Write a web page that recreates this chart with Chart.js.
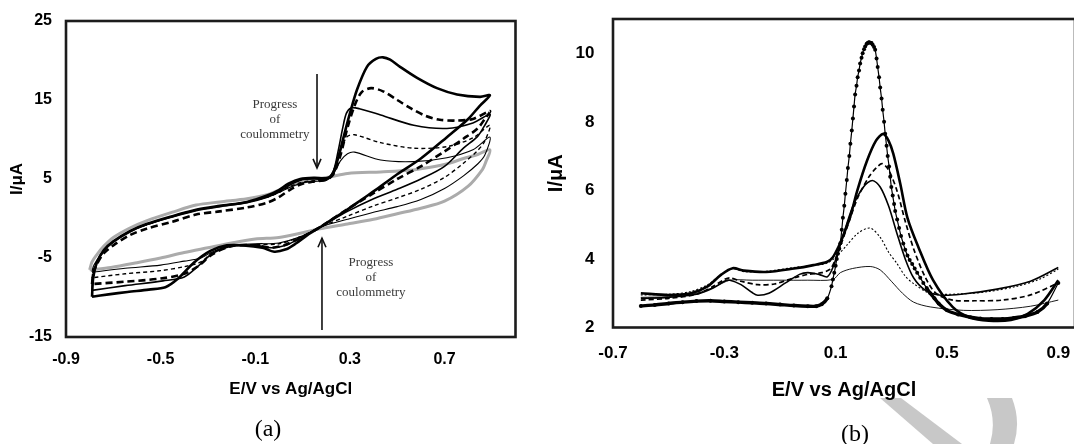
<!DOCTYPE html>
<html>
<head>
<meta charset="utf-8">
<script src="https://cdn.jsdelivr.net/npm/chart.js@4.4.1/dist/chart.umd.min.js"></script>
<style>
    html, body { margin: 0; padding: 0; background: #fff; overflow: hidden; }
    body { width: 1074px; height: 444px; position: relative; }
    .panel { position: absolute; top: 0; width: 540px; height: 444px; }
    #panelA { left: 0; }
    #panelB { left: 540px; }
    #wmark { position: absolute; left: 0; top: 0; }
    .caption {
        position: absolute;
        font-family: "Liberation Serif", "Times New Roman", serif;
        font-size: 24px;
        line-height: 24px;
        color: #000;
        transform: translateX(-50%);
    }
</style>
</head>
<body>
<svg id="wmark" width="1074" height="444">
    <polygon points="880,398 901,398 962,444 933,444" fill="#c8c8c8"/>
    <path d="M987,398 L1012,398 Q1021,421 1014,444 L990,444 Q997,421 987,398 Z" fill="#c8c8c8"/>
</svg>
<div class="panel" id="panelA"><canvas id="cvChart" width="540" height="444"></canvas></div>
<div class="panel" id="panelB"><canvas id="dpvChart" width="540" height="444"></canvas></div>
<div class="caption" style="left:268px; top:416px;">(a)</div>
<div class="caption" style="left:855px; top:421px;">(b)</div>

<script>
// ---- Panel (a): cyclic voltammograms, E (V) vs I (uA) ----
const cvTicksX = [-0.9, -0.5, -0.1, 0.3, 0.7];
const cvTickLabelsX = ['-0.9', '-0.5', '-0.1', '0.3', '0.7'];
const cvTicksY = [-15, -5, 5, 15, 25];
const cvTickLabelsY = ['-15', '-5', '5', '15', '25'];

// thick solid (start of coulometry)
const cvScan1 = [
    [-0.79, -9.9], [-0.785, -7.5], [-0.77, -5.6], [-0.74, -4.0], [-0.70, -2.9], [-0.63, -1.6],
    [-0.56, -0.7], [-0.45, 0.3], [-0.35, 1.1], [-0.25, 1.6], [-0.135, 2.1], [-0.05, 2.9],
    [0.0, 3.6], [0.04, 4.4], [0.09, 5.0], [0.15, 5.15], [0.2, 5.1], [0.225, 5.5], [0.25, 7.6],
    [0.275, 10.5], [0.30, 13.3], [0.33, 16.3], [0.372, 19.2], [0.41, 20.2], [0.44, 20.4],
    [0.47, 20.1], [0.512, 19.2], [0.584, 17.8], [0.668, 16.5], [0.753, 15.7], [0.85, 15.4],
    [0.892, 15.6],
    [0.85, 14.3], [0.80, 12.6], [0.71, 10.3], [0.60, 7.6], [0.50, 5.6], [0.427, 4.0],
    [0.35, 2.4], [0.288, 1.1], [0.23, 0.0], [0.174, -1.1], [0.12, -2.1], [0.07, -3.2],
    [0.03, -3.9], [-0.02, -4.2], [-0.07, -3.7], [-0.15, -3.4], [-0.22, -3.4], [-0.29, -4.1],
    [-0.36, -5.6], [-0.43, -7.7], [-0.48, -8.7], [-0.55, -9.0], [-0.64, -9.3], [-0.72, -9.6],
    [-0.79, -9.9]
];
// thick dashed
const cvScan2 = [
    [-0.79, -8.3], [-0.785, -7.0], [-0.77, -5.8], [-0.74, -4.4], [-0.70, -3.4], [-0.63, -2.1],
    [-0.56, -1.3], [-0.45, -0.4], [-0.35, 0.5], [-0.25, 0.9], [-0.135, 1.4], [-0.05, 2.0],
    [0.0, 2.7], [0.05, 3.7], [0.1, 4.4], [0.15, 4.7], [0.2, 4.9], [0.23, 5.6], [0.26, 8.0],
    [0.29, 11.5], [0.32, 14.3], [0.35, 16.0], [0.39, 16.5], [0.44, 16.1], [0.5, 15.0],
    [0.56, 13.9], [0.62, 13.0], [0.68, 12.5], [0.75, 12.4], [0.82, 12.6], [0.892, 13.6],
    [0.87, 12.6], [0.84, 11.4], [0.78, 10.1], [0.70, 8.5], [0.60, 6.6], [0.50, 5.0],
    [0.40, 3.2], [0.29, 1.2], [0.174, -1.1], [0.1, -2.3], [0.03, -3.3], [-0.03, -3.7],
    [-0.1, -3.4], [-0.2, -3.5], [-0.28, -4.5], [-0.34, -6.0], [-0.40, -7.0], [-0.5, -7.6],
    [-0.65, -8.0], [-0.79, -8.3]
];
// medium solid
const cvScan3 = [
    [-0.79, -9.1], [-0.785, -7.2], [-0.77, -5.6], [-0.74, -4.1], [-0.70, -3.0], [-0.63, -1.7],
    [-0.56, -0.8], [-0.45, 0.2], [-0.35, 1.0], [-0.25, 1.5], [-0.135, 2.0], [-0.05, 2.7],
    [0.0, 3.4], [0.05, 4.3], [0.1, 4.9], [0.15, 5.0], [0.2, 5.0], [0.23, 6.0], [0.25, 8.5],
    [0.27, 11.5], [0.285, 13.3], [0.305, 14.0], [0.34, 13.9], [0.43, 13.1], [0.57, 11.8],
    [0.71, 11.4], [0.82, 12.1], [0.892, 13.2],
    [0.87, 11.8], [0.84, 10.4], [0.78, 8.9], [0.70, 6.6], [0.60, 5.0], [0.50, 3.7],
    [0.40, 2.5], [0.29, 0.9], [0.174, -1.1], [0.1, -2.3], [0.03, -3.4], [-0.03, -3.7],
    [-0.1, -3.4], [-0.2, -3.5], [-0.28, -4.4], [-0.34, -6.0], [-0.40, -7.4], [-0.49, -7.9],
    [-0.65, -8.5], [-0.79, -9.1]
];
// thin dashed
const cvScan4 = [
    [-0.79, -7.5], [-0.785, -6.6], [-0.77, -5.5], [-0.74, -4.0], [-0.70, -2.9], [-0.63, -1.6],
    [-0.56, -0.8], [-0.45, 0.3], [-0.35, 1.1], [-0.25, 1.6], [-0.135, 2.1], [-0.05, 2.7],
    [0.0, 3.3], [0.05, 4.1], [0.1, 4.6], [0.15, 4.8], [0.2, 4.9], [0.23, 6.0], [0.26, 8.7],
    [0.29, 10.4], [0.32, 10.6], [0.43, 9.6], [0.57, 8.9], [0.71, 9.1], [0.82, 10.2],
    [0.892, 11.8],
    [0.87, 9.8], [0.84, 8.6], [0.78, 7.0], [0.70, 5.2], [0.60, 3.7], [0.50, 2.6],
    [0.40, 1.6], [0.29, 0.3], [0.174, -1.1], [0.1, -2.2], [0.0, -3.2], [-0.1, -3.3],
    [-0.2, -3.5], [-0.28, -4.3], [-0.33, -5.5], [-0.4, -6.1], [-0.5, -6.6], [-0.65, -7.0],
    [-0.79, -7.5]
];
// thin solid
const cvScan5 = [
    [-0.79, -6.8], [-0.785, -6.1], [-0.77, -5.3], [-0.74, -4.0], [-0.70, -2.9], [-0.63, -1.6],
    [-0.56, -0.8], [-0.45, 0.3], [-0.35, 1.1], [-0.25, 1.6], [-0.135, 2.1], [-0.05, 2.7],
    [0.0, 3.3], [0.05, 4.0], [0.1, 4.5], [0.15, 4.7], [0.2, 4.8], [0.23, 5.6], [0.26, 7.3],
    [0.29, 8.2], [0.32, 8.4], [0.43, 7.4], [0.57, 7.2], [0.71, 7.7], [0.82, 8.7], [0.892, 10.3],
    [0.87, 8.0], [0.84, 6.9], [0.78, 5.4], [0.70, 3.8], [0.60, 2.4], [0.50, 1.5],
    [0.40, 0.8], [0.29, -0.1], [0.174, -1.1], [0.1, -2.2], [0.0, -3.1], [-0.1, -3.2],
    [-0.2, -3.4], [-0.28, -4.2], [-0.33, -5.0], [-0.4, -5.4], [-0.5, -5.9], [-0.65, -6.3],
    [-0.79, -6.8]
];
// grey (end of coulometry)
const cvScan6 = [
    [-0.80, -6.5], [-0.79, -5.5], [-0.77, -4.6], [-0.74, -3.5], [-0.70, -2.4], [-0.63, -1.2],
    [-0.56, -0.3], [-0.45, 0.8], [-0.35, 1.7], [-0.25, 2.1], [-0.135, 2.5], [-0.05, 3.0],
    [0.0, 3.6], [0.07, 4.3], [0.145, 4.9], [0.22, 5.3], [0.29, 5.7], [0.43, 5.9], [0.55, 6.1],
    [0.64, 6.5], [0.72, 7.0], [0.78, 7.6], [0.84, 8.1], [0.892, 8.7],
    [0.875, 7.2], [0.86, 6.2], [0.8, 4.1], [0.7, 2.2], [0.6, 1.3], [0.5, 0.6], [0.4, -0.1],
    [0.29, -0.7], [0.174, -1.3], [0.1, -1.8], [0.0, -2.4], [-0.1, -2.6], [-0.2, -3.1],
    [-0.3, -3.7], [-0.4, -4.3], [-0.5, -5.0], [-0.6, -5.6], [-0.71, -6.2], [-0.80, -6.5]
];

// ---- Panel (b): differential pulse voltammograms ----
const dpvTicksX = [-0.7, -0.3, 0.1, 0.5, 0.9];
const dpvTickLabelsX = ['-0.7', '-0.3', '0.1', '0.5', '0.9'];
const dpvTicksY = [2, 4, 6, 8, 10];
const dpvTickLabelsY = ['2', '4', '6', '8', '10'];

// dotted with markers
const dpvRun1 = [
    [-0.6, 2.63], [-0.55, 2.66], [-0.5, 2.7], [-0.45, 2.74], [-0.4, 2.77], [-0.35, 2.78],
    [-0.3, 2.76], [-0.25, 2.74], [-0.2, 2.72], [-0.15, 2.7], [-0.1, 2.67], [-0.05, 2.64],
    [0.0, 2.62], [0.03, 2.62], [0.05, 2.68], [0.07, 2.85], [0.085, 3.2], [0.09, 3.4],
    [0.095, 3.6], [0.1, 3.8], [0.104, 4.0], [0.108, 4.15], [0.113, 4.3], [0.117, 4.46],
    [0.122, 4.85], [0.126, 5.2], [0.131, 5.55], [0.135, 5.9], [0.14, 6.3], [0.144, 6.65],
    [0.149, 7.0], [0.153, 7.36], [0.158, 7.75], [0.162, 8.1], [0.166, 8.45], [0.17, 8.8],
    [0.175, 9.05], [0.179, 9.3], [0.184, 9.5], [0.188, 9.7], [0.193, 9.87], [0.197, 10.0],
    [0.202, 10.12], [0.206, 10.2], [0.211, 10.27], [0.215, 10.3], [0.22, 10.32], [0.224, 10.31],
    [0.229, 10.3], [0.233, 10.25], [0.238, 10.18], [0.242, 10.1], [0.247, 9.85], [0.251, 9.6],
    [0.256, 9.3], [0.26, 9.0], [0.265, 8.68], [0.269, 8.35], [0.274, 8.0], [0.278, 7.65],
    [0.283, 7.3], [0.287, 7.0], [0.292, 6.7], [0.296, 6.4], [0.3, 6.1], [0.305, 5.85],
    [0.31, 5.6], [0.314, 5.4], [0.321, 5.15], [0.328, 4.9], [0.335, 4.67], [0.343, 4.45],
    [0.35, 4.27], [0.358, 4.1], [0.366, 3.97], [0.375, 3.85], [0.384, 3.72], [0.393, 3.6],
    [0.404, 3.45], [0.415, 3.3], [0.427, 3.15], [0.44, 3.0], [0.455, 2.85], [0.47, 2.7],
    [0.5, 2.5], [0.54, 2.38], [0.584, 2.3], [0.62, 2.26], [0.66, 2.25], [0.7, 2.25],
    [0.74, 2.28], [0.78, 2.33], [0.825, 2.45], [0.86, 2.7], [0.9, 3.3]
];
// thick solid
const dpvRun2 = [
    [-0.6, 3.0], [-0.5, 2.95], [-0.42, 3.0], [-0.36, 3.2], [-0.31, 3.55], [-0.27, 3.73],
    [-0.23, 3.66], [-0.15, 3.62], [-0.05, 3.72], [0.02, 3.82], [0.07, 3.92], [0.09, 4.05],
    [0.11, 4.35], [0.128, 4.7], [0.153, 5.25], [0.178, 6.0], [0.213, 6.87], [0.245, 7.45],
    [0.271, 7.65], [0.29, 7.45], [0.307, 7.07], [0.332, 6.2], [0.358, 5.2], [0.397, 4.35],
    [0.45, 3.38], [0.52, 2.6], [0.58, 2.3], [0.65, 2.2], [0.73, 2.22], [0.79, 2.4],
    [0.85, 2.8], [0.9, 3.38]
];
// medium dashed
const dpvRun3 = [
    [-0.6, 2.8], [-0.5, 2.85], [-0.4, 2.97], [-0.34, 3.2], [-0.3, 3.4], [-0.28, 3.45],
    [-0.24, 3.35], [-0.18, 3.25], [-0.12, 3.27], [-0.05, 3.45], [0.0, 3.55], [0.05, 3.6],
    [0.08, 3.7], [0.1, 4.0], [0.14, 4.9], [0.18, 5.8], [0.22, 6.4], [0.245, 6.65], [0.267, 6.78],
    [0.29, 6.6], [0.32, 6.0], [0.35, 5.1], [0.38, 4.3], [0.42, 3.5], [0.46, 3.0], [0.52, 2.8],
    [0.6, 2.78], [0.7, 2.8], [0.8, 2.95], [0.9, 3.3]
];
// medium solid
const dpvRun4 = [
    [-0.6, 2.85], [-0.5, 2.88], [-0.4, 2.97], [-0.34, 3.15], [-0.3, 3.35], [-0.28, 3.38],
    [-0.24, 3.25], [-0.2, 3.02], [-0.18, 2.94], [-0.14, 3.0], [-0.08, 3.3], [-0.03, 3.55],
    [0.0, 3.6], [0.04, 3.55], [0.07, 3.48], [0.09, 3.75], [0.12, 4.5], [0.16, 5.5], [0.2, 6.1],
    [0.232, 6.29], [0.26, 6.1], [0.29, 5.55], [0.32, 4.75], [0.35, 4.0], [0.38, 3.45],
    [0.42, 3.1], [0.47, 2.95], [0.55, 2.97], [0.68, 3.12], [0.8, 3.35], [0.9, 3.75]
];
// thin dotted
const dpvRun5 = [
    [-0.6, 2.95], [-0.5, 2.97], [-0.42, 3.05], [-0.36, 3.25], [-0.31, 3.55], [-0.27, 3.72],
    [-0.23, 3.63], [-0.15, 3.64], [-0.05, 3.75], [0.03, 3.82], [0.07, 3.88], [0.1, 4.05],
    [0.14, 4.4], [0.18, 4.75], [0.224, 4.9], [0.26, 4.63], [0.29, 4.2], [0.32, 3.87],
    [0.35, 3.5], [0.38, 3.28], [0.44, 3.0], [0.55, 2.98], [0.65, 3.05], [0.75, 3.2],
    [0.83, 3.4], [0.9, 3.7]
];
// thin solid
const dpvRun6 = [
    [-0.6, 2.88], [-0.5, 2.9], [-0.4, 3.0], [-0.33, 3.2], [-0.28, 3.38], [-0.2, 3.38],
    [-0.1, 3.38], [0.0, 3.38], [0.09, 3.4], [0.117, 3.6], [0.16, 3.72], [0.224, 3.78],
    [0.26, 3.68], [0.3, 3.35], [0.34, 3.0], [0.38, 2.74], [0.44, 2.6], [0.56, 2.5],
    [0.68, 2.52], [0.8, 2.62], [0.9, 2.8]
];

// annotation arrows / text for panel (a), in data units
const cvArrows = [
    { x: 0.161, from: 18.3, to: 6.4 },
    { x: 0.182, from: -14.1, to: -2.5 }
];
const cvNotes = [
    { x: -0.017, y: [14.4, 12.5, 10.6] },
    { x: 0.389, y: [-5.6, -7.5, -9.4] }
];
const cvNoteLines = ['Progress', 'of', 'coulommetry'];

const tickFont = size => ({ family: '"Liberation Sans", Arial, sans-serif', size: size, weight: 'bold' });

function toPoints(pairs) {
    return pairs.map(p => ({ x: p[0], y: p[1] }));
}

function line(data, width, dash, color) {
    return {
        data: toPoints(data),
        showLine: true,
        borderColor: color || '#000',
        borderWidth: width,
        borderDash: dash || [],
        pointRadius: 0,
        tension: 0.3,
        fill: false
    };
}

// keep the plot area exactly where the axis sizes put it
function noLabelPadding(s) {
    s.paddingTop = 0;
    s.paddingBottom = 0;
    s.paddingLeft = 0;
    s.paddingRight = 0;
}

/**
 * Frame around the plot area
 */
const plotFrame = {
    id: 'plotFrame',
    afterDatasetsDraw(chart) {
        const { ctx, chartArea: a } = chart;
        ctx.save();
        ctx.strokeStyle = '#1c1c1c';
        ctx.lineWidth = 2.6;
        ctx.strokeRect(a.left, a.top, a.right - a.left, a.bottom - a.top);
        ctx.restore();
    }
};

/**
 * Arrows and "Progress of coulommetry" labels
 */
const cvAnnotations = {
    id: 'cvAnnotations',
    afterDraw(chart) {
        const { ctx, scales: { x, y } } = chart;
        ctx.save();
        ctx.strokeStyle = '#111';
        ctx.lineWidth = 1.6;
        cvArrows.forEach(a => {
            const px = x.getPixelForValue(a.x);
            const y0 = y.getPixelForValue(a.from);
            const y1 = y.getPixelForValue(a.to);
            const dir = y1 > y0 ? 1 : -1;
            ctx.beginPath();
            ctx.moveTo(px, y0);
            ctx.lineTo(px, y1);
            ctx.stroke();
            ctx.beginPath();
            ctx.moveTo(px - 4, y1 - dir * 9);
            ctx.lineTo(px, y1);
            ctx.lineTo(px + 4, y1 - dir * 9);
            ctx.stroke();
        });
        ctx.fillStyle = '#3a3a3a';
        ctx.font = '13px "Liberation Serif", "Times New Roman", serif';
        ctx.textAlign = 'center';
        ctx.textBaseline = 'middle';
        cvNotes.forEach(n => {
            n.y.forEach((v, i) => {
                ctx.fillText(cvNoteLines[i], x.getPixelForValue(n.x), y.getPixelForValue(v));
            });
        });
        ctx.restore();
    }
};

// ---- Chart (a) ----
new Chart(document.getElementById('cvChart'), {
    type: 'scatter',
    data: {
        datasets: [
            line(cvScan1, 2.6),
            line(cvScan2, 2.6, [7, 4]),
            line(cvScan3, 1.6),
            line(cvScan4, 1.4, [4, 3]),
            line(cvScan5, 1.1),
            line(cvScan6, 3, [], '#ababab')
        ]
    },
    options: {
        responsive: false,
        animation: false,
        events: [],
        devicePixelRatio: 1,
        layout: { padding: { top: 21, right: 24.5, bottom: 0, left: 0 } },
        plugins: { legend: { display: false }, tooltip: { enabled: false } },
        scales: {
            x: {
                type: 'linear',
                min: -0.9,
                max: 1.0,
                grid: { display: false, drawTicks: false },
                border: { display: false },
                afterBuildTicks: s => { s.ticks = cvTicksX.map(v => ({ value: v })); },
                afterFit: s => { s.height = 107; noLabelPadding(s); },
                ticks: {
                    padding: 13.4,
                    color: '#000',
                    font: tickFont(16),
                    maxRotation: 0,
                    callback: (v, i) => cvTickLabelsX[i]
                },
                title: {
                    display: true,
                    text: 'E/V vs Ag/AgCl',
                    color: '#000',
                    font: tickFont(17),
                    padding: { top: 0, bottom: 44.8 }
                }
            },
            y: {
                type: 'linear',
                min: -15,
                max: 25,
                grid: { display: false, drawTicks: false },
                border: { display: false },
                afterBuildTicks: s => { s.ticks = cvTicksY.map(v => ({ value: v })); },
                afterFit: s => { s.width = 66; noLabelPadding(s); },
                ticks: {
                    padding: 14,
                    color: '#000',
                    font: tickFont(16),
                    callback: (v, i) => cvTickLabelsY[i]
                },
                title: {
                    display: true,
                    text: 'I/μA',
                    color: '#000',
                    font: tickFont(17),
                    padding: { top: 6.8, bottom: 0 }
                }
            }
        }
    },
    plugins: [plotFrame, cvAnnotations]
});

// ---- Chart (b) ----
// the marker run looks like a heavy line where it is flat and a bead chain on the steep flanks
const markerRun = line(dpvRun1, 1.2);
markerRun.pointRadius = 2.0;
markerRun.pointBackgroundColor = '#000';
markerRun.pointBorderColor = '#000';
markerRun.pointBorderWidth = 0;
markerRun.segment = {
    borderWidth: c => {
        const dx = Math.abs(c.p1.x - c.p0.x);
        const dy = Math.abs(c.p1.y - c.p0.y);
        return dy < dx * 1.5 ? 3.4 : 1.2;
    }
};

new Chart(document.getElementById('dpvChart'), {
    type: 'scatter',
    data: {
        datasets: [
            markerRun,
            line(dpvRun2, 2.6),
            line(dpvRun3, 1.7, [5, 3]),
            line(dpvRun4, 1.6),
            line(dpvRun5, 1.1, [2, 2]),
            line(dpvRun6, 0.9)
        ]
    },
    options: {
        responsive: false,
        animation: false,
        events: [],
        devicePixelRatio: 1,
        layout: { padding: { top: 19, right: 5, bottom: 0, left: 0 } },
        plugins: { legend: { display: false }, tooltip: { enabled: false } },
        scales: {
            x: {
                type: 'linear',
                min: -0.7,
                max: 0.96,
                grid: { display: false, drawTicks: false },
                border: { display: false },
                afterBuildTicks: s => { s.ticks = dpvTicksX.map(v => ({ value: v })); },
                afterFit: s => { s.height = 116.5; noLabelPadding(s); },
                ticks: {
                    padding: 15.8,
                    color: '#000',
                    font: tickFont(17),
                    maxRotation: 0,
                    callback: (v, i) => dpvTickLabelsX[i]
                },
                title: {
                    display: true,
                    text: 'E/V vs Ag/AgCl',
                    color: '#000',
                    font: tickFont(20),
                    padding: { top: 0, bottom: 42 }
                }
            },
            y: {
                type: 'linear',
                min: 2,
                max: 11,
                grid: { display: false, drawTicks: false },
                border: { display: false },
                afterBuildTicks: s => { s.ticks = dpvTicksY.map(v => ({ value: v })); },
                afterFit: s => { s.width = 73; noLabelPadding(s); },
                ticks: {
                    padding: 18.5,
                    color: '#000',
                    font: tickFont(17),
                    callback: (v, i) => dpvTickLabelsY[i]
                },
                title: {
                    display: true,
                    text: 'I/μA',
                    color: '#000',
                    font: tickFont(20),
                    padding: { top: 4, bottom: 0 }
                }
            }
        }
    },
    plugins: [plotFrame]
});
</script>
</body>
</html>
